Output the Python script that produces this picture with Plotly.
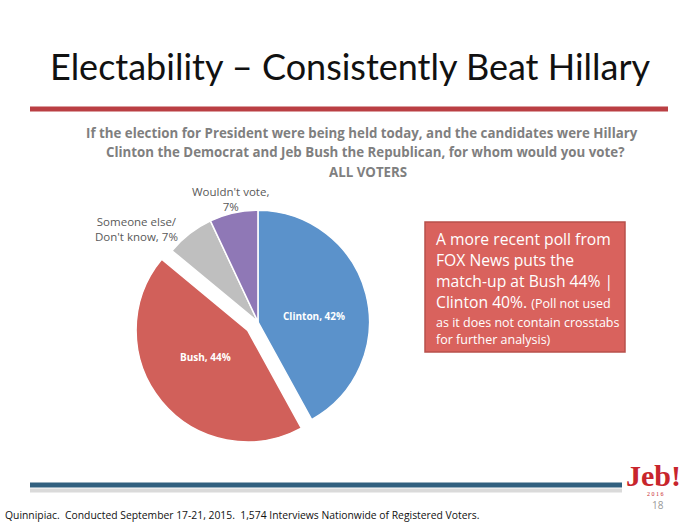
import plotly.graph_objects as go

categories = ["Clinton", "Bush", "Someone else/Don't know", "Wouldn't vote"]
values = [42, 44, 7, 7]
colors = ["#5B92CB", "#D1605A", "#BFBFBF", "#8F78B6"]
pulls = [0, 0.12, 0, 0]

# label text for each slice
label_texts = [
    "Clinton, 42%",
    "Bush, 44%",
    "Someone else/<br>Don't know, 7%",
    "Wouldn't vote,<br>7%",
]

fig = go.Figure()
fig.add_trace(go.Pie(
    labels=categories,
    values=values,
    text=label_texts,
    textinfo="none",
    sort=False,
    direction="clockwise",
    rotation=0,
    pull=pulls,
    marker=dict(colors=colors, line=dict(color="white", width=1.5)),
    domain=dict(x=[0.190, 0.547], y=[0.149, 0.625]),
    showlegend=False,
    hoverinfo="label+percent",
))

shapes = [
    dict(type="line", xref="paper", yref="paper", x0=30/700, x1=668/700, y0=1-109/525, y1=1-109/525,
         line=dict(color="#BA3F43", width=5)),
    dict(type="line", xref="paper", yref="paper", x0=30/700, x1=622/700, y0=1-485/525, y1=1-485/525,
         line=dict(color="#31607F", width=5)),
    dict(type="line", xref="paper", yref="paper", x0=30/700, x1=622/700, y0=1-490.5/525, y1=1-490.5/525,
         line=dict(color="#DADADA", width=4)),
    dict(type="rect", xref="paper", yref="paper", x0=425/700, x1=625/700, y0=1-352/525, y1=1-222/525,
         fillcolor="#D9625D", line=dict(color="#B8504B", width=1.5)),
]

def ann(text, x, y, size, color, family="Open Sans", weight="normal", xanchor="center", align="center"):
    return dict(text=text, x=x/700, y=1-y/525, xref="paper", yref="paper", showarrow=False,
                font=dict(family=family, size=size, color=color, weight=weight),
                xanchor=xanchor, yanchor="middle", align=align)

annotations = [
    ann("Electability – Consistently Beat Hillary", 350, 66, 36, "#111111", family="Lato"),
    ann("If the election for President were being held today, and the candidates were Hillary", 362, 133, 13.3, "#7F7F7F", weight="bold"),
    ann("Clinton the Democrat and Jeb Bush the Republican, for whom would you vote?", 365, 152, 13.3, "#7F7F7F", weight="bold"),
    ann("ALL VOTERS", 368, 172, 13.3, "#7F7F7F", weight="bold"),
    # slice labels
    ann(label_texts[0], 314, 316, 10, "white", weight="bold"),
    ann(label_texts[1], 205, 357, 10, "white", weight="bold"),
    ann(label_texts[2], 136, 229, 11.5, "#595959"),
    ann(label_texts[3], 230, 199, 11.5, "#595959"),
    # callout lines
    ann("A more recent poll from", 434, 239, 15.7, "white", xanchor="left"),
    ann("FOX News puts the", 434, 260, 15.7, "white", xanchor="left"),
    ann("match-up at Bush 44% |", 434, 281, 15.7, "white", xanchor="left"),
    ann("Clinton 40%. <span style='font-size:12.5px'>(Poll not used</span>", 434, 302, 15.7, "white", xanchor="left"),
    ann("as it does not contain crosstabs", 434, 322, 12.5, "white", xanchor="left"),
    ann("for further analysis)", 434, 339, 12.5, "white", xanchor="left"),
    # logo and page number
    ann("Jeb!", 653, 475, 30, "#C8252C", family="Liberation Serif", weight="bold"),
    ann("2 0 1 6", 655, 494, 6, "#C8252C", family="Liberation Serif"),
    ann("18", 658, 505, 10, "#999999"),
    ann("Quinnipiac.  Conducted September 17-21, 2015.  1,574 Interviews Nationwide of Registered Voters.",
        3, 515, 10.35, "#111111", xanchor="left"),
]

fig.update_layout(
    width=700, height=525,
    margin=dict(l=0, r=0, t=0, b=0),
    paper_bgcolor="white", plot_bgcolor="white",
    shapes=shapes, annotations=annotations,
)

fig.write_html("out.html", config={"displayModeBar": False},
               post_script="document.body.style.margin='0';")
